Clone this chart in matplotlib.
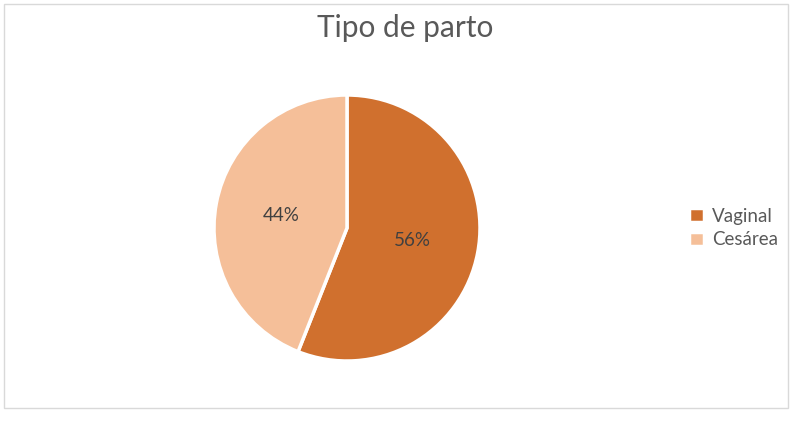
import matplotlib.pyplot as plt
from matplotlib.patches import Rectangle

plt.rcParams["font.family"] = ["Lato", "DejaVu Sans"]

labels = ["Vaginal", "Cesárea"]
values = [56, 44]
colors = ["#D0702E", "#F5BF99"]

fig = plt.figure(figsize=(7.92, 4.32), dpi=100)
fig.patch.set_facecolor("white")

# chart border
fig.add_artist(Rectangle((4 / 792, 1 - 408 / 432), 784 / 792, 404 / 432,
                         transform=fig.transFigure, fill=False,
                         edgecolor="#D9D9D9", linewidth=1))

fig.text(405 / 792, 1 - 28 / 432, "Tipo de parto", ha="center", va="center",
         fontsize=21.5, color="#595959")

# pie axes: center (347, 228), radius 133 px
r = 133
ax = fig.add_axes([(347 - r) / 792, 1 - (228 + r) / 432, 2 * r / 792, 2 * r / 432])
wedges, texts, autotexts = ax.pie(
    values, colors=colors, startangle=90, counterclock=False,
    autopct="%d%%", pctdistance=0.5,
    wedgeprops=dict(edgecolor="white", linewidth=2.5),
    textprops=dict(fontsize=13.5, color="#404040"))
ax.set_xlim(-1, 1)
ax.set_ylim(-1, 1)
ax.set_aspect("equal")

fig.legend(wedges, labels, loc="center left", bbox_to_anchor=(672 / 792, 1 - 228 / 432),
           frameon=False, fontsize=13.5, labelcolor="#595959",
           handlelength=0.8, handleheight=0.8, handletextpad=0.45, labelspacing=0.35)

fig.savefig("out.png", dpi=100)
